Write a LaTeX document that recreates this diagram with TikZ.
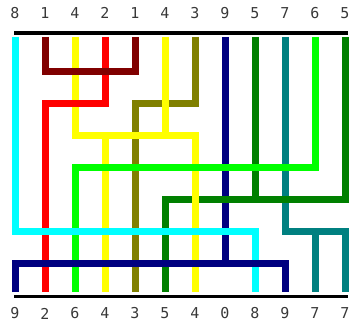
\documentclass[tikz,border=0pt]{standalone}
\usepackage{fontspec}
\newfontfamily\digitfont{DejaVu Sans Mono}
\definecolor{wcyan}{RGB}{0,255,255}
\definecolor{wmaroon}{RGB}{128,0,0}
\definecolor{wyellow}{RGB}{255,255,0}
\definecolor{wred}{RGB}{255,0,0}
\definecolor{wolive}{RGB}{128,128,0}
\definecolor{wnavy}{RGB}{0,0,128}
\definecolor{wgreen}{RGB}{0,128,0}
\definecolor{wteal}{RGB}{0,128,128}
\definecolor{wlime}{RGB}{0,255,0}
\begin{document}
\begin{tikzpicture}[x=1pt, y=-1pt,
  wire/.style={line width=7pt, line join=miter, line cap=butt},
  rail/.style={line width=3.5pt, line cap=butt},
  lbl/.style={font=\digitfont\fontsize{15}{16}\selectfont, text=black!78, inner sep=0pt}]
  % page frame
  \useasboundingbox (0,0) rectangle (355,323);
  % labels top and bottom
  \foreach \d [count=\i] in {8,1,4,2,1,4,3,9,5,7,6,5}
    \node[lbl] (t\i) at (30*\i-15, 13) {\d};
  \foreach \d [count=\i] in {9,2,6,4,3,5,4,0,8,9,7,7}
    \node[lbl] (b\i) at (30*\i-15, 313.5) {\d};
  % rails
  \draw[rail] (14,33) -- (348,33);
  \draw[rail] (14,296.5) -- (348,296.5);
  % olive 3 -> 3
  \draw[wire, wolive] (195,37) -- (195,104) -- (135,104) -- (135,292);
  % teal 7 -> 7,7
  \draw[wire, wteal] (285,37) -- (285,231) -- (345,231) -- (345,292);
  \draw[wire, wteal] (315,231) -- (315,292);
  % navy, upper part
  \draw[wire, wnavy] (225,37) -- (225,263);
  % green 5,5 -> 5
  \draw[wire, wgreen] (255,37) -- (255,199);
  \draw[wire, wgreen] (345,37) -- (345,199) -- (165,199) -- (165,292);
  % yellow 4,4 -> 4,4
  \draw[wire, wyellow] (75,37) -- (75,135) -- (195,135) -- (195,292);
  \draw[wire, wyellow] (165,37) -- (165,135);
  \draw[wire, wyellow] (105,135) -- (105,292);
  % red 2 -> 2
  \draw[wire, wred] (105,37) -- (105,104) -- (45,104) -- (45,292);
  % maroon 1,1
  \draw[wire, wmaroon] (45,37) -- (45,72) -- (135,72) -- (135,37);
  % lime 6 -> 6
  \draw[wire, wlime] (315,37) -- (315,167) -- (75,167) -- (75,292);
  % cyan 8 -> 8
  \draw[wire, wcyan] (15,37) -- (15,231) -- (255,231) -- (255,292);
  % navy, lower part -> 9,9
  \draw[wire, wnavy] (15,292) -- (15,263) -- (285,263) -- (285,292);
\end{tikzpicture}
\end{document}
